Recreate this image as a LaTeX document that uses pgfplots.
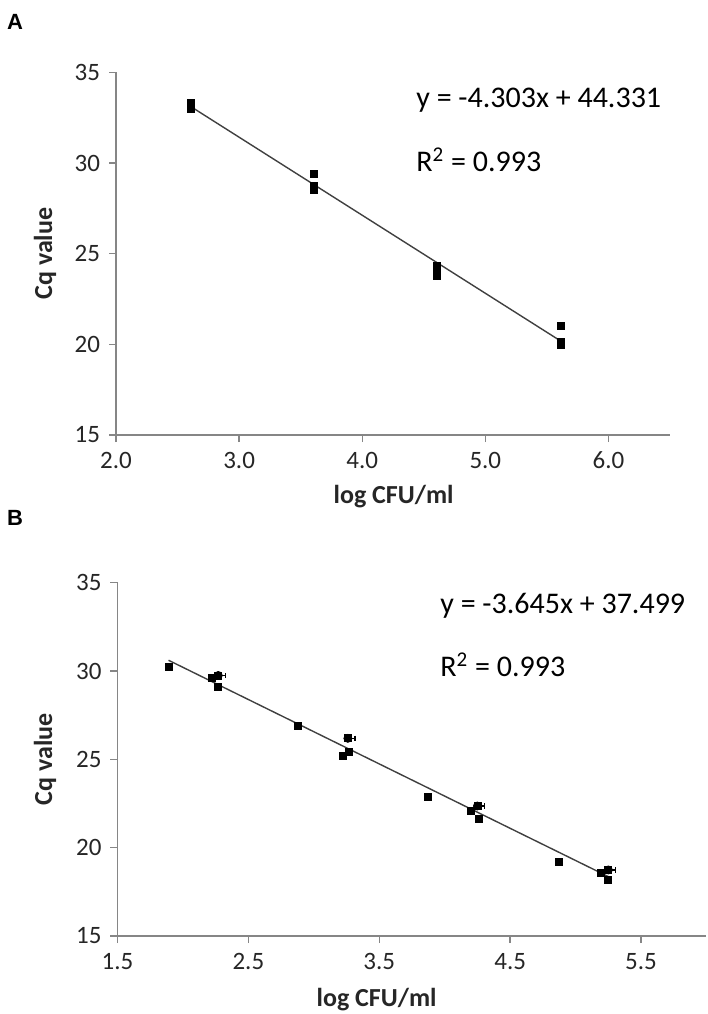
\documentclass[border=0pt]{standalone}
\usepackage{pgfplots}
\pgfplotsset{compat=1.18}
\usepackage{fontspec}
\setmainfont{Carlito}
\newfontfamily\arialb{Liberation Sans}
\definecolor{axgray}{HTML}{868686}
\definecolor{linegray}{HTML}{404040}
\definecolor{txt}{HTML}{262626}

\pgfplotstableread{
x y
2.61 33.30
2.61 33.10
2.61 33.00
3.61 29.40
3.61 28.75
3.61 28.50
4.61 24.35
4.61 24.05
4.61 23.75
5.61 21.00
5.61 20.15
5.61 19.98
}\dataA

\pgfplotstableread{
x y
1.89 30.25
2.22 29.60
2.27 29.75
2.27 29.08
2.88 26.89
3.26 26.19
3.27 25.44
3.22 25.19
3.87 22.89
4.25 22.36
4.20 22.10
4.26 21.61
4.87 19.21
5.19 18.55
5.25 18.74
5.25 18.15
}\dataB

\pgfplotsset{
  myaxis/.style={
    scale only axis,
    axis x line*=bottom,
    axis y line*=left,
    axis line style={axgray, line width=0.7pt},
    tick align=outside,
    major tick length=3.5pt,
    tick style={axgray, line width=0.7pt},
    every tick label/.append style={font=\fontsize{12.5}{14}\selectfont, text=txt},
    /pgf/number format/assume math mode=true,
    ymin=15, ymax=35, ytick={15,20,25,30,35},
    yticklabel style={xshift=-1pt},
    xticklabel style={yshift=-1.5pt, /pgf/number format/.cd, fixed, fixed zerofill, precision=1},
    clip=false,
  },
  pts/.style={only marks, mark=square*, mark size=1.75pt, black},
  fit/.style={linegray, line width=0.7pt, no marks},
}

\begin{document}
\begin{tikzpicture}
\useasboundingbox (0,0) rectangle (354pt,-507pt);

% Panel A
\begin{axis}[myaxis,
  at={(58pt,-217.5pt)}, anchor=south west,
  width=277pt, height=181.35pt,
  xmin=2, xmax=6.5, xtick={2,3,4,5,6}]
\addplot[fit] coordinates {(2.61,33.100) (5.61,20.191)};
\addplot[pts] table[x=x,y=y] {\dataA};
\end{axis}

% Panel B
\begin{axis}[myaxis,
  at={(58.75pt,-468pt)}, anchor=south west,
  width=294.5pt, height=176.65pt,
  xmin=1.5, xmax=6, xtick={1.5,2.5,3.5,4.5,5.5}]
\addplot[fit] coordinates {(1.89,30.610) (5.25,18.363)};
\addplot[only marks, mark=none, black,
  error bars/.cd, x dir=plus, x explicit,
  error bar style={black, line width=0.6pt}, error mark options={rotate=90, mark size=1.3pt, black, line width=0.6pt}]
  coordinates {(2.27,29.75) +- (0.055,0) (3.26,26.19) +- (0.055,0) (4.25,22.36) +- (0.055,0) (5.25,18.74) +- (0.055,0)};
\addplot[pts] table[x=x,y=y] {\dataB};
\end{axis}

% Panel letters
\node[anchor=center, font=\arialb\bfseries\fontsize{11}{13}\selectfont] at (7.5pt,-11pt) {A};
\node[anchor=center, font=\arialb\bfseries\fontsize{11}{13}\selectfont] at (7.5pt,-259pt) {B};

% Axis titles
\node[rotate=90, font=\bfseries\fontsize{13}{15}\selectfont, text=txt] at (22.5pt,-126.8pt) {Cq value};
\node[rotate=90, font=\bfseries\fontsize{13}{15}\selectfont, text=txt] at (22.5pt,-379.7pt) {Cq value};
\node[font=\bfseries\fontsize{13}{15}\selectfont, text=txt] at (196.8pt,-248.5pt) {log CFU/ml};
\node[font=\bfseries\fontsize{13}{15}\selectfont, text=txt] at (188.3pt,-500pt) {log CFU/ml};

% Equations
\node[anchor=west, font=\fontsize{15}{17}\selectfont, text=black, inner sep=0pt] at (208pt,-50pt) {y = -4.303x + 44.331};
\node[anchor=west, font=\fontsize{15}{17}\selectfont, text=black, inner sep=0pt] at (208pt,-80pt) {R\textsuperscript{2} = 0.993};
\node[anchor=west, font=\fontsize{15}{17}\selectfont, text=black, inner sep=0pt] at (220pt,-303pt) {y = -3.645x + 37.499};
\node[anchor=west, font=\fontsize{15}{17}\selectfont, text=black, inner sep=0pt] at (220pt,-332.5pt) {R\textsuperscript{2} = 0.993};
\end{tikzpicture}
\end{document}
